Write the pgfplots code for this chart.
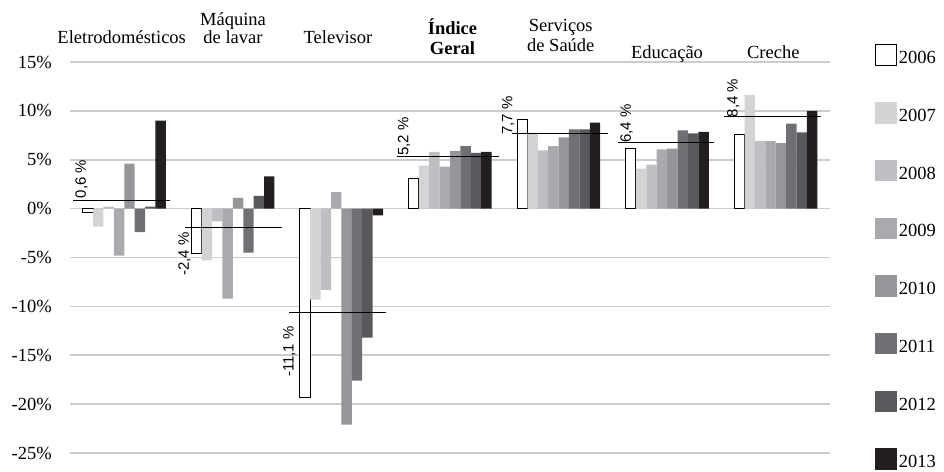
\documentclass[border=0pt]{standalone}
\usepackage{pgfplots}
\pgfplotsset{compat=1.18}
\usepackage{fontspec}
\setmainfont{Liberation Serif}
\newfontfamily\labfont{Liberation Sans}
\newcommand{\serfont}{\fontsize{18.5}{21}\selectfont}
\newcommand{\pctfont}{\labfont\fontsize{15}{17}\selectfont}
\definecolor{gridgray}{RGB}{204,204,204}
\definecolor{c2007}{RGB}{211,211,213}
\definecolor{c2008}{RGB}{190,191,194}
\definecolor{c2009}{RGB}{169,170,173}
\definecolor{c2010}{RGB}{149,150,153}
\definecolor{c2011}{RGB}{111,112,116}
\definecolor{c2012}{RGB}{88,89,92}
\definecolor{c2013}{RGB}{35,31,32}
\pgfplotsset{
  bars/.style={ybar, bar width=0.0958, draw=none, fill=#1,
    legend image code/.code={\fill[#1] (0pt,-7.5pt) rectangle (21.6pt,14pt);}},
  avg/.style={black, line width=0.9pt, forget plot, mark=none},
}

\begin{document}
\begin{tikzpicture}[x=1pt,y=1pt]
\begin{axis}[
    at={(0,0)}, anchor=south west,
    scale only axis, width=760pt, height=391pt,
    xmin=-0.5, xmax=6.5, ymin=-25, ymax=15,
    axis line style={draw=none},
    xtick=\empty,
    ytick={-25,-20,...,15},
    yticklabels={-25\%,-20\%,-15\%,-10\%,-5\%,0\%,5\%,10\%,15\%},
    yticklabel style={font=\serfont, inner sep=0pt, xshift=-18pt},
    major tick length=0pt,
    ymajorgrids, grid style={draw=gridgray, line width=1.6pt},
    clip=false,
    legend style={at={(1.0592,1.0453)}, anchor=north west, draw=none, fill=none,
        inner sep=0pt, row sep=34.8pt, font=\serfont,
        /tikz/every even column/.append style={column sep=4pt}},
    legend cell align=left,
]
% 2006 .. 2013, categories 0..6
\addplot[ybar, bar width=0.0958, bar shift=-0.3353, fill=white, draw=black, line width=0.9pt,
    legend image code/.code={\draw[black, fill=white, line width=0.9pt] (0.45pt,-7.05pt) rectangle (21.15pt,13.55pt);}]
    coordinates {(0,-0.4) (1,-4.6) (2,-19.3) (3,3.1) (4,9.1) (5,6.2) (6,7.6)};
\addplot[bars=c2007, bar shift=-0.2395] coordinates {(0,-1.85) (1,-5.3) (2,-9.3) (3,4.4) (4,7.7) (5,4.1) (6,11.6)};
\addplot[bars=c2008, bar shift=-0.1437] coordinates {(0,0.2) (1,-1.3) (2,-8.3) (3,5.8) (4,5.95) (5,4.5) (6,6.9)};
\addplot[bars=c2009, bar shift=-0.0479] coordinates {(0,-4.8) (1,-9.2) (2,1.7) (3,4.3) (4,6.4) (5,6.05) (6,6.9)};
\addplot[bars=c2010, bar shift=0.0479] coordinates {(0,4.6) (1,1.1) (2,-22.1) (3,5.9) (4,7.3) (5,6.15) (6,6.7)};
\addplot[bars=c2011, bar shift=0.1437] coordinates {(0,-2.4) (1,-4.5) (2,-17.6) (3,6.4) (4,8.1) (5,8.0) (6,8.7)};
\addplot[bars=c2012, bar shift=0.2395] coordinates {(0,0.2) (1,1.3) (2,-13.2) (3,5.7) (4,8.1) (5,7.7) (6,7.8)};
\addplot[bars=c2013, bar shift=0.3353] coordinates {(0,9.0) (1,3.3) (2,-0.7) (3,5.8) (4,8.8) (5,7.85) (6,10.0)};
\legend{2006,2007,2008,2009,2010,2011,2012,2013}

% average lines
\addplot[avg] coordinates {(-0.47,0.8) (0.42,0.8)};
\addplot[avg] coordinates {(0.559,-1.94) (1.453,-1.94)};
\addplot[avg] coordinates {(1.517,-10.67) (2.41,-10.67)};
\addplot[avg] coordinates {(2.509,5.35) (3.454,5.35)};
\addplot[avg] coordinates {(3.568,7.74) (4.458,7.74)};
\addplot[avg] coordinates {(4.544,6.79) (5.434,6.79)};
\addplot[avg] coordinates {(5.526,9.39) (6.417,9.39)};
\end{axis}

% category headers
\begin{scope}[every node/.style={font=\serfont, inner sep=0pt, anchor=base}]
\node at (51.7,409) {Eletrodomésticos};
\node at (163,427) {Máquina};
\node at (163,409) {de lavar};
\node at (268,409) {Televisor};
\node at (382.5,418) {\bfseries Índice};
\node at (382.5,398) {\bfseries Geral};
\node at (490.8,421.5) {Serviços};
\node at (490.8,401.5) {de Saúde};
\node at (597,394.7) {Educação};
\node at (703.3,394.7) {Creche};
\end{scope}

% average value labels
\begin{scope}[every node/.style={font=\pctfont, inner sep=0pt, rotate=90}]
\node[anchor=west] at (11.7,254.7) {0,6 \%};
\node[anchor=east] at (114.5,221) {-2,4 \%};
\node[anchor=east] at (219.5,127) {-11,1 \%};
\node[anchor=west] at (334,297) {5,2 \%};
\node[anchor=west] at (438,318) {7,7 \%};
\node[anchor=west] at (556.7,310) {6,4 \%};
\node[anchor=west] at (663.3,335.7) {8,4 \%};
\end{scope}

\pgfresetboundingbox
\path[use as bounding box] (-70,-18) rectangle (874,453);
\end{tikzpicture}
\end{document}
